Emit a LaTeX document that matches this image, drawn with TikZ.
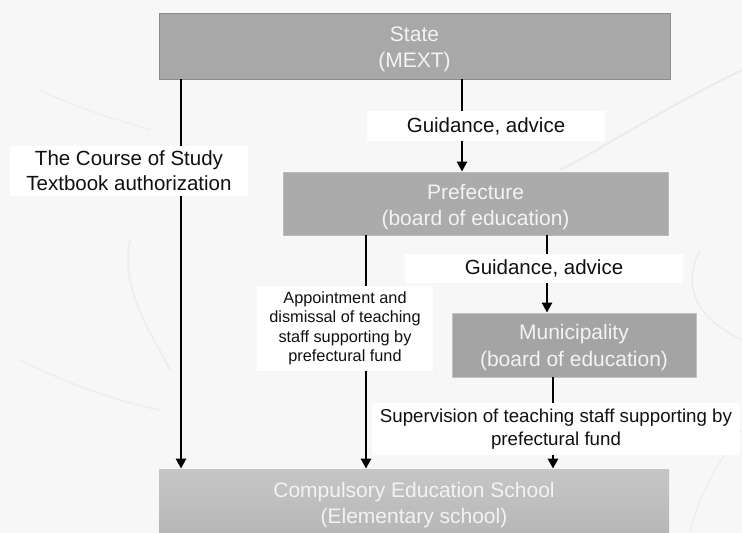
\documentclass[tikz,border=0pt]{standalone}
\usepackage{fontspec}
\setmainfont{Liberation Sans}
\usetikzlibrary{arrows.meta,calc}

\definecolor{pagebg}{HTML}{F7F7F7}
\definecolor{streak}{HTML}{E8E8E8}
\definecolor{boxtext}{HTML}{F3F3F3}
\definecolor{statefill}{HTML}{A8A8A8}
\definecolor{stateedge}{HTML}{8C8C8C}
\definecolor{preffill}{HTML}{ABABAB}
\definecolor{prefedge}{HTML}{BBBBBB}
\definecolor{munifill}{HTML}{A4A4A4}
\definecolor{muniedge}{HTML}{C2C2C2}
\definecolor{schooltop}{HTML}{C6C6C6}
\definecolor{schoolbot}{HTML}{B2B2B2}
\definecolor{labeltext}{HTML}{111111}

\begin{document}
\begin{tikzpicture}[x=1pt,y=-1pt,
  orgbox/.style={rectangle, line width=0.8pt, inner sep=0pt},
  boxlabel/.style={align=center, text=boxtext, yshift=-3.5pt,
    font=\fontsize{21}{26.5}\selectfont},
  flow/.style={line width=2.6pt, draw=black,
    -{Triangle[width=10pt,length=10pt]}},
  lbl/.style={fill=white, text=labeltext, align=center, inner ysep=3pt,
    font=\fontsize{20.5}{25}\selectfont},
  smalllbl/.style={lbl, font=\fontsize{16.3}{19.3}\selectfont},
  midlbl/.style={lbl, font=\fontsize{18.7}{23}\selectfont}]

% page and faint marble streaks
\fill[pagebg] (0,0) rectangle (742,533);
\useasboundingbox (0,0) rectangle (742,533);
\begin{scope}[line cap=round, streak]
  \draw[line width=2pt, opacity=0.8] (742,70) .. controls (660,110) and (600,150) .. (560,170);
  \draw[line width=1.5pt, opacity=0.7] (700,250) .. controls (680,290) and (700,320) .. (742,340);
  \draw[line width=2pt, opacity=0.6] (130,240) .. controls (120,290) and (150,330) .. (170,370);
  \draw[line width=1.5pt, opacity=0.6] (20,360) .. controls (60,380) and (110,400) .. (160,410);
  \draw[line width=1.5pt, opacity=0.5] (742,430) .. controls (720,460) and (700,490) .. (690,533);
  \draw[line width=1.5pt, opacity=0.5] (40,90) .. controls (80,110) and (120,120) .. (150,130);
\end{scope}

% organisations
\node[orgbox, fill=statefill, draw=stateedge,
  minimum width=511pt, minimum height=66pt,
  label={[boxlabel]center:State\\(MEXT)}] (state) at (414.5,46) {};
\node[orgbox, fill=preffill, draw=prefedge,
  minimum width=385pt, minimum height=63pt,
  label={[boxlabel]center:Prefecture\\(board of education)}] (pref) at (475.5,203.5) {};
\node[orgbox, fill=munifill, draw=muniedge,
  minimum width=244pt, minimum height=64pt,
  label={[boxlabel, yshift=1pt]center:Municipality\\(board of education)}] (muni) at (574,345) {};
\node[orgbox, top color=schooltop, bottom color=schoolbot, draw=none,
  minimum width=510pt, minimum height=86pt,
  label={[boxlabel, yshift=10pt, font=\fontsize{21}{26}\selectfont]center:Compulsory Education School\\(Elementary school)}] (school) at (414,512) {};

% columns of the connectors
\coordinate (cstate) at (181,0);
\coordinate (cguide) at (462,0);
\coordinate (cappt)  at (366,0);
\coordinate (cpref)  at (547,0);
\coordinate (cmuni)  at (553,0);

% connectors with their labels
\draw[flow] (state.south -| cstate) -- (school.north -| cstate)
  node[lbl, pos=0.235, xshift=-52pt, inner xsep=16pt, inner ysep=5pt]
  {The Course of Study\\Textbook authorization};
\draw[flow] (state.south -| cguide) -- (pref.north -| cguide)
  node[lbl, pos=0.505, xshift=24pt, inner xsep=40pt, inner ysep=6pt] {Guidance, advice};
\draw[flow] (pref.south -| cappt) -- (school.north -| cappt)
  node[smalllbl, pos=0.398, xshift=-21pt, inner xsep=12pt, inner ysep=6pt]
  {Appointment and\\dismissal of teaching\\staff supporting by\\prefectural fund};
\draw[flow] (pref.south -| cpref) -- (muni.north -| cpref)
  node[lbl, pos=0.43, xshift=-3pt, inner xsep=60pt, inner ysep=6pt] {Guidance, advice};
\draw[flow] (muni.south -| cmuni) -- (school.north -| cmuni)
  node[midlbl, pos=0.565, xshift=3pt, inner xsep=8pt, inner ysep=6pt]
  {Supervision of teaching staff supporting by\\prefectural fund};
\end{tikzpicture}
\end{document}
